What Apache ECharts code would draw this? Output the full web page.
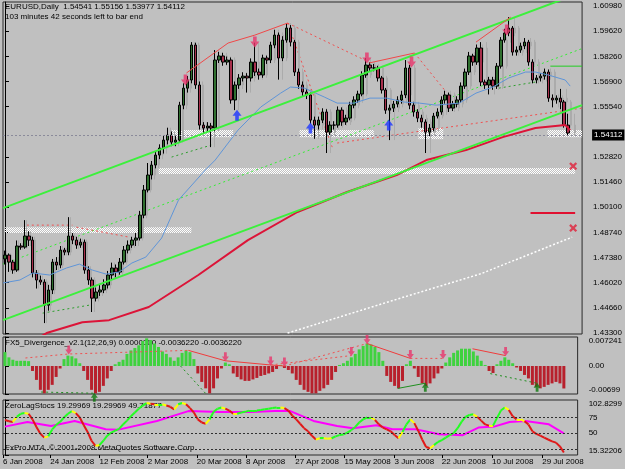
<!DOCTYPE html>
<html>
<head>
<meta charset="utf-8">
<script src="https://cdn.jsdelivr.net/npm/echarts@6/dist/echarts.min.js"></script>
<style>
html, body { margin: 0; padding: 0; background: #c0c0c0; }
#main { width: 625px; height: 469px; }
</style>
</head>
<body>
<div id="main"></div>
<script>
// ---- price bars: [open, close, low, high] ----
const candles = [
  [1.4730,1.4751,1.4700,1.4775],[1.4751,1.4713,1.4660,1.4760],[1.4713,1.4670,1.4650,1.4725],[1.4670,1.4800,1.4660,1.4830],
  [1.4800,1.4794,1.4780,1.4815],[1.4794,1.4854,1.4785,1.4940],[1.4854,1.4832,1.4800,1.4880],[1.4832,1.4654,1.4630,1.4850],
  [1.4654,1.4616,1.4570,1.4670],[1.4616,1.4605,1.4590,1.4640],[1.4605,1.4480,1.4383,1.4620],[1.4480,1.4562,1.4450,1.4590],
  [1.4562,1.4713,1.4540,1.4730],[1.4713,1.4697,1.4670,1.4740],[1.4697,1.4778,1.4680,1.4800],[1.4778,1.4767,1.4750,1.4790],
  [1.4767,1.4854,1.4750,1.4956],[1.4854,1.4832,1.4810,1.4870],[1.4832,1.4805,1.4785,1.4850],[1.4805,1.4821,1.4790,1.4840],
  [1.4821,1.4670,1.4650,1.4835],[1.4670,1.4616,1.4590,1.4690],[1.4616,1.4518,1.4443,1.4630],[1.4518,1.4551,1.4500,1.4575],
  [1.4551,1.4562,1.4530,1.4590],[1.4562,1.4589,1.4545,1.4620],[1.4589,1.4643,1.4570,1.4665],[1.4643,1.4681,1.4620,1.4710],
  [1.4681,1.4659,1.4630,1.4700],[1.4659,1.4713,1.4645,1.4735],[1.4713,1.4778,1.4700,1.4800],[1.4778,1.4805,1.4760,1.4830],
  [1.4805,1.4832,1.4790,1.4850],[1.4832,1.4843,1.4800,1.4870],[1.4843,1.4967,1.4830,1.4990],[1.4967,1.5103,1.4950,1.5130],
  [1.5103,1.5184,1.5090,1.5249],[1.5184,1.5238,1.5160,1.5260],[1.5238,1.5292,1.5220,1.5310],[1.5292,1.5330,1.5270,1.5350],
  [1.5330,1.5373,1.5300,1.5400],[1.5373,1.5400,1.5350,1.5440],[1.5400,1.5362,1.5340,1.5420],[1.5362,1.5373,1.5340,1.5395],
  [1.5373,1.5562,1.5360,1.5580],[1.5562,1.5654,1.5540,1.5680],[1.5654,1.5698,1.5630,1.5720],[1.5698,1.5887,1.5680,1.5903],
  [1.5887,1.5671,1.5650,1.5900],[1.5671,1.5454,1.5430,1.5690],[1.5454,1.5438,1.5410,1.5470],[1.5438,1.5449,1.5420,1.5470],
  [1.5449,1.5438,1.5335,1.5465],[1.5438,1.5806,1.5420,1.5860],[1.5806,1.5828,1.5790,1.5850],[1.5828,1.5795,1.5775,1.5845],
  [1.5795,1.5806,1.5780,1.5825],[1.5806,1.5590,1.5570,1.5820],[1.5590,1.5671,1.5535,1.5690],[1.5671,1.5709,1.5650,1.5730],
  [1.5709,1.5719,1.5690,1.5740],[1.5719,1.5709,1.5630,1.5735],[1.5709,1.5795,1.5690,1.5815],[1.5795,1.5741,1.5720,1.5900],
  [1.5741,1.5725,1.5700,1.5760],[1.5725,1.5817,1.5710,1.5835],[1.5817,1.5806,1.5785,1.5830],[1.5806,1.5887,1.5790,1.5905],
  [1.5887,1.5941,1.5870,1.5970],[1.5941,1.5817,1.5700,1.5955],[1.5817,1.5914,1.5800,1.5935],[1.5914,1.5979,1.5900,1.6006],
  [1.5979,1.5903,1.5880,1.5995],[1.5903,1.5741,1.5720,1.5915],[1.5741,1.5671,1.5650,1.5760],[1.5671,1.5633,1.5610,1.5690],
  [1.5633,1.5617,1.5595,1.5650],[1.5617,1.5481,1.5460,1.5630],[1.5481,1.5454,1.5380,1.5500],[1.5454,1.5481,1.5430,1.5500],
  [1.5481,1.5525,1.5465,1.5545],[1.5525,1.5416,1.5303,1.5540],[1.5416,1.5454,1.5400,1.5475],[1.5454,1.5454,1.5430,1.5475],
  [1.5454,1.5535,1.5440,1.5555],[1.5535,1.5471,1.5450,1.5550],[1.5471,1.5492,1.5455,1.5510],[1.5492,1.5562,1.5480,1.5580],
  [1.5562,1.5590,1.5545,1.5610],[1.5590,1.5622,1.5575,1.5640],[1.5622,1.5725,1.5610,1.5745],[1.5725,1.5779,1.5710,1.5817],
  [1.5779,1.5763,1.5745,1.5795],[1.5763,1.5763,1.5745,1.5785],[1.5763,1.5709,1.5690,1.5775],[1.5709,1.5644,1.5625,1.5720],
  [1.5644,1.5535,1.5515,1.5655],[1.5535,1.5546,1.5373,1.5565],[1.5546,1.5568,1.5525,1.5585],[1.5568,1.5590,1.5550,1.5610],
  [1.5590,1.5617,1.5570,1.5640],[1.5617,1.5763,1.5600,1.5806],[1.5763,1.5562,1.5540,1.5780],[1.5562,1.5525,1.5500,1.5580],
  [1.5525,1.5492,1.5470,1.5540],[1.5492,1.5471,1.5440,1.5510],[1.5471,1.5416,1.5303,1.5485],[1.5416,1.5438,1.5395,1.5460],
  [1.5438,1.5503,1.5420,1.5520],[1.5503,1.5525,1.5490,1.5545],[1.5525,1.5590,1.5510,1.5610],[1.5590,1.5617,1.5570,1.5640],
  [1.5617,1.5546,1.5525,1.5630],[1.5546,1.5568,1.5530,1.5585],[1.5568,1.5590,1.5550,1.5610],[1.5590,1.5665,1.5575,1.5685],
  [1.5665,1.5741,1.5650,1.5760],[1.5741,1.5828,1.5725,1.5850],[1.5828,1.5795,1.5775,1.5840],[1.5795,1.5871,1.5780,1.5890],
  [1.5871,1.5687,1.5665,1.5903],[1.5687,1.5671,1.5650,1.5700],[1.5671,1.5698,1.5620,1.5715],[1.5698,1.5665,1.5645,1.5715],
  [1.5665,1.5773,1.5650,1.5790],[1.5773,1.5914,1.5760,1.5930],[1.5914,1.5952,1.5900,1.5975],[1.5952,1.5979,1.5935,1.6038],
  [1.5979,1.5849,1.5830,1.5990],[1.5849,1.5860,1.5830,1.5880],[1.5860,1.5882,1.5845,1.5900],[1.5882,1.5903,1.5865,1.5925],
  [1.5903,1.5795,1.5775,1.5915],[1.5795,1.5698,1.5680,1.5810],[1.5698,1.5709,1.5680,1.5725],[1.5709,1.5719,1.5690,1.5735],
  [1.5719,1.5741,1.5700,1.5760],[1.5741,1.5600,1.5580,1.5755],[1.5600,1.5590,1.5550,1.5620],[1.5590,1.5600,1.5570,1.5615],
  [1.5600,1.5579,1.5540,1.5650],[1.5579,1.5454,1.5440,1.5590],[1.54541,1.54112,1.53977,1.55156]
];
const barSlots = 146;          // visible bar slots across the chart
const bidPrice = 1.54112;

const priceTicks = [1.43300,1.44660,1.46020,1.47380,1.48740,1.50100,1.51460,1.52820,1.55540,1.56900,1.58260,1.59620,1.60980];

// moving averages: [bar index, price]
const blueMA = [[-0.5,1.4600],[3.75,1.4616],[7,1.4654],[11.25,1.4643],[15.5,1.4681],[18.75,1.4702],[22,1.4670],[25.5,1.4648],
  [28.75,1.4659],[32,1.4708],[35.5,1.4740],[39.5,1.4843],[43.75,1.5049],[50.5,1.5211],[53,1.5265],[58.75,1.5427],[64.5,1.5552],
  [69.5,1.5627],[72,1.5660],[75.5,1.5654],[80.5,1.5606],[83.75,1.5573],[88,1.5573],[92,1.5600],[96.25,1.5600],[100.5,1.5579],
  [104.5,1.5573],[108.75,1.5562],[114.5,1.5573],[118.75,1.5627],[123,1.5660],[127,1.5709],[131.25,1.5741],[133.75,1.5741],
  [137,1.5725],[141.25,1.5698],[142.5,1.5665]];
const redMA = [[9.25,1.4313],[10.5,1.4329],[19.5,1.4388],[26.25,1.4399],[36.25,1.4470],[48.75,1.4643],[61.25,1.4832],
  [73.75,1.4984],[86.25,1.5092],[98.75,1.5184],[106.25,1.5265],[116.25,1.5319],[125.5,1.5389],[133.75,1.5438],[141.25,1.5454],[142.5,1.5427]];
const whiteMA = [[71.25,1.4329],[100,1.4520],[120,1.4650],[143,1.4848]];

// trend channel and drawn lines: [[x0,p0],[x1,p1]]
const chanUpper = [[-0.5,1.5005],[145.5,1.6173]];
const chanLower = [[-0.5,1.4399],[145.5,1.5562]];
const chanMid = [[-0.5,1.4702],[145.5,1.5868]];
const redSolid = [
  [[45.75,1.5736],[56.25,1.5898],[63,1.5941],[71.25,1.6006]],
  [[91.75,1.5790],[103.25,1.5844]],
  [[118.75,1.5903],[127.5,1.6038]]
];
const redDotted = [
  [[5.5,1.4913],[17,1.4913]],
  [[18,1.4902],[31.25,1.4848]],
  [[71.25,1.6006],[91.75,1.5795]],
  [[71.25,1.6006],[82.5,1.5335]],
  [[103.25,1.5844],[111.25,1.5633]],
  [[83.75,1.5357],[145.5,1.5546]]
];
const greenDotted = [
  [[9.5,1.4437],[21.25,1.4480]],
  [[42,1.5281],[52,1.5346]],
  [[124.5,1.5654],[133.75,1.5687]]
];
// hatched support zones: [x0, x1, priceTop, priceBottom]
const zones = [[0,47,1.4902,1.4870],[41.75,57.5,1.5427,1.5389],[74.25,93,1.5427,1.5389],
  [104.25,110.5,1.5438,1.5378],[136.75,145.5,1.5427,1.5389],[38.75,143.75,1.5222,1.5189]];
const sellArrows = [[45.5,1.5698],[63,1.5903],[91.25,1.5817],[102.5,1.5795],[126.5,1.5968]];
const buyArrows = [[58.5,1.5508],[77,1.5438],[96.75,1.5454]];
const crossMarks = [[143.25,1.5232],[143.25,1.4897]];
const redLevel = [[132.5,1.4978],[143.75,1.4978]];
const greenLevel = [[137.5,1.5773],[145.5,1.5773]];

// FX5 divergence histogram
const divHist = [0.00346,0.00216,0.00156,0.0013,0.0013,0.0013,0.00121,-0.00124,-0.00347,-0.00595,-0.00682,-0.00595,-0.00471,-0.00273,
  -0.00062,0.00173,0.00259,0.00242,0.0019,0.00069,-0.00124,-0.00347,-0.00595,-0.00682,-0.00645,-0.00496,-0.0031,-0.00124,0.00043,0.00104,
  0.00156,0.00302,0.00389,0.00449,0.00518,0.00622,0.00691,0.00648,0.00562,0.00475,0.00363,0.00302,0.00216,0.0013,0.00216,0.00328,0.00389,0.00346,
  0.00173,-0.00186,-0.00397,-0.00558,-0.00682,-0.00558,-0.0031,-0.00062,0.00086,0.00043,-0.00186,-0.00273,-0.00335,-0.00372,-0.00372,-0.00335,
  -0.00298,-0.00248,-0.00223,-0.00186,-0.00149,-0.00074,0.00026,-0.0005,-0.00099,-0.00186,-0.00347,-0.00471,-0.00595,-0.00645,-0.00682,
  -0.00682,-0.0062,-0.00558,-0.00471,-0.00347,-0.00149,0.00026,0.00069,0.0013,0.00216,0.00302,0.00415,0.00501,0.00562,0.00536,0.00475,0.00346,
  0.0013,-0.00248,-0.00397,-0.00496,-0.00558,-0.00372,0.00043,0.0013,-0.00062,-0.00273,-0.00434,-0.00496,-0.00434,-0.0031,-0.00186,-0.00062,
  0.00086,0.00216,0.00328,0.00389,0.00432,0.00432,0.00432,0.00363,0.00259,0.0013,0.00026,-0.00124,-0.00174,0.00043,0.0013,0.00216,0.00156,0.00069,
  -0.00037,-0.00124,-0.00223,-0.0031,-0.00471,-0.00521,-0.00558,-0.00521,-0.00471,-0.00434,-0.00397,-0.00434,-0.00561];
const divTicks = [-0.00699, 0, 0.007241];
const divRedSolid = [[[46.6,0.0039],[56,0.0013],[67.5,0.00026],[71,0]],[[92,0.0056],[103,0.0019]],[[118.8,0.0043],[127.2,0.0026]]];
const divRedDotted = [[[5.2,0.002],[16.2,0.003],[46.6,0.0039]],[[71,0],[92,0.0056]],[[67.5,0.00026],[88,0.0026]],[[103,0.0019],[111.3,0.0019]]];
const divGreenSolid = [[[99.8,-0.0056],[106.8,-0.0043]]];
const divGreenDotted = [[[9.2,-0.0065],[22.7,-0.0068]],[[44.6,0],[51.5,-0.0074]],[[123.3,-0.0019],[135.2,-0.0043]]];
const divSellArrows = [[16.2,0.003],[56,0.0013],[67.5,0.00026],[71,0],[88,0.0026],[92,0.0056],[103,0.0019],[111.3,0.0019],[127.2,0.0026]];
const divBuyArrows = [[22.7,-0.0068],[51.5,-0.0074],[106.8,-0.0043],[135.2,-0.0043]];

// ZeroLag stochastic
const stochMain = [71,69,68,76,81,82,81,72,60,49,43,45,56,63,68,75,81,85,82,75,63,52,38,30,31,38,46,51,54,57,64,70,77,83,89,94,98,97,
  96,96,96,94,92,88,96,98,96,90,83,72,67,65,72,84,89,91,89,86,81,81,83,84,86,86,86,87,88,89,90,91,91,90,86,78,72,65,58,53,46,40,42,
  42,41,42,45,47,48,51,55,60,67,72,75,75,71,64,59,56,53,47,42,52,64,72,66,54,40,28,26,31,36,39,43,47,50,58,68,76,79,80,76,70,64,62,
  62,74,86,91,87,77,72,72,69,64,53,49,46,43,40,37,35,29,19.3];
const stochSignal = [[0,60.5],[5.7,67.9],[11.7,61.6],[17.7,69.5],[25.6,56.3],[28.6,55.3],[38.6,69.5],[46.6,85.2],[54.5,83.7],
  [62.5,83.7],[68.5,85.2],[72.5,85.2],[78.4,69.5],[84.4,61.6],[88.4,57.9],[94.4,62.6],[98.4,56.3],[104.3,56.3],[110.3,48.4],
  [116.3,46.8],[120.3,58.9],[124.3,60.5],[128.2,67.9],[132.2,69.5],[138.2,64.2],[142,49.7]];
const stochLevels = [25, 50, 75];
const stochTicks = [15.32206, 25, 50, 75, 102.8299];

const dateLabels = ['6 Jan 2008','24 Jan 2008','12 Feb 2008','2 Mar 2008','20 Mar 2008','8 Apr 2008','27 Apr 2008',
  '15 May 2008','3 Jun 2008','22 Jun 2008','10 Jul 2008','29 Jul 2008'];
const dateIdx = [-0.5,11.5,24,36.25,48.75,61.25,73.75,86.25,99,111,123.75,136.5];

// ---- build ----
const FONT = "'Liberation Sans', Arial, sans-serif";
const BG = '#c0c0c0';
const cats = [];
for (let i = 0; i < barSlots; i++) cats.push(String(i));

// white checker pattern for the zones
const pat = document.createElement('canvas');
pat.width = 2; pat.height = 2;
const pc = pat.getContext('2d');
pc.fillStyle = '#ffffff';
pc.fillRect(0, 0, 1, 1);
pc.fillRect(1, 1, 1, 1);

const downArrow = 'path://M3,0 L7,0 L7,5 L10,5 L5,11 L0,5 L3,5 Z';
const upArrow = 'path://M5,0 L10,6 L7,6 L7,11 L3,11 L3,6 L0,6 Z';
const crossPath = 'path://M0,2 L2,0 L5,3 L8,0 L10,2 L7,5 L10,8 L8,10 L5,7 L2,10 L0,8 L3,5 Z';

function lineSeries(data, color, width, type, xi, yi, z) {
  return {
    type: 'line', xAxisIndex: xi, yAxisIndex: yi, data: data, symbol: 'none', silent: true,
    lineStyle: { color: color, width: width, type: type }, z: z || 3, clip: true, animation: false
  };
}

const series = [];

// hatched zones
series.push({
  type: 'line', xAxisIndex: 1, yAxisIndex: 0, data: [], z: 1,
  markArea: {
    silent: true,
    itemStyle: { color: { image: pat, repeat: 'repeat' } },
    data: zones.map(z => [{ coord: [z[0], z[2]] }, { coord: [z[1], z[3]] }])
  }
});

series.push(lineSeries(whiteMA, '#ffffff', 1.5, [2, 2], 1, 0, 2));
series.push(lineSeries(chanMid, '#33ee33', 1, [2, 3], 1, 0, 2));
greenDotted.forEach(d => series.push(lineSeries(d, '#2e9e2e', 1, [2, 3], 1, 0, 2)));
redDotted.forEach(d => series.push(lineSeries(d, '#f05050', 1, [2, 3], 1, 0, 2)));

// grey shadow copy of the bars, drawn slightly to the right
series.push({
  type: 'candlestick', xAxisIndex: 5, yAxisIndex: 3, data: candles, barWidth: 2, z: 3, silent: true,
  itemStyle: { color: '#ababab', color0: '#ababab', borderColor: '#ababab', borderColor0: '#ababab', borderWidth: 1 }
});

series.push({
  type: 'candlestick', xAxisIndex: 0, yAxisIndex: 0, data: candles, barWidth: 3, z: 4,
  itemStyle: { color: '#2f6f2f', color0: '#a8304c', borderColor: '#000000', borderColor0: '#000000', borderWidth: 1 },
  markLine: {
    silent: true, symbol: 'none', animation: false,
    lineStyle: { color: '#8a8a9a', type: [2, 2], width: 1 },
    label: {
      position: 'end', formatter: bidPrice.toFixed(5), color: '#ffffff', backgroundColor: '#000000',
      fontFamily: FONT, fontSize: 8, padding: [2, 2, 1, 2], distance: 10
    },
    data: [{ yAxis: bidPrice }]
  }
});

series.push(lineSeries(blueMA, '#5f95d8', 1, 'solid', 1, 0, 5));
series.push(lineSeries(redMA, '#dc1438', 2, 'solid', 1, 0, 5));
series.push(lineSeries(chanUpper, '#3cf03c', 2, 'solid', 1, 0, 5));
series.push(lineSeries(chanLower, '#3cf03c', 2, 'solid', 1, 0, 5));
series.push(lineSeries(greenLevel, '#22cc22', 1, 'solid', 1, 0, 5));
series.push(lineSeries(redLevel, '#e01030', 2, 'solid', 1, 0, 5));
redSolid.forEach(d => series.push(lineSeries(d, '#f04848', 1, 'solid', 1, 0, 5)));

series.push({ type: 'scatter', xAxisIndex: 1, yAxisIndex: 0, data: sellArrows, symbol: downArrow, symbolSize: [9, 11],
  itemStyle: { color: '#e8346c' }, z: 6, silent: true });
series.push({ type: 'scatter', xAxisIndex: 1, yAxisIndex: 0, data: buyArrows, symbol: upArrow, symbolSize: [9, 11],
  itemStyle: { color: '#1c34ff' }, z: 6, silent: true });
series.push({ type: 'scatter', xAxisIndex: 1, yAxisIndex: 0, data: crossMarks, symbol: crossPath, symbolSize: 8,
  itemStyle: { color: '#e0203a' }, z: 6, silent: true });

// divergence panel
series.push({
  type: 'bar', xAxisIndex: 2, yAxisIndex: 1, data: divHist, barWidth: 3, z: 2, silent: true,
  itemStyle: { color: p => (p.value >= 0 ? '#3fd23f' : '#b8202c') }
});
divRedSolid.forEach(d => series.push(lineSeries(d, '#f03c3c', 1, 'solid', 3, 1, 4)));
divRedDotted.forEach(d => series.push(lineSeries(d, '#f05050', 1, [2, 3], 3, 1, 4)));
divGreenSolid.forEach(d => series.push(lineSeries(d, '#1f8f1f', 1, 'solid', 3, 1, 4)));
divGreenDotted.forEach(d => series.push(lineSeries(d, '#1f8f1f', 1, [2, 3], 3, 1, 4)));
series.push({ type: 'scatter', xAxisIndex: 3, yAxisIndex: 1, data: divSellArrows, symbol: downArrow, symbolSize: [7, 9],
  symbolOffset: [0, -4], itemStyle: { color: '#e8346c' }, z: 6, silent: true });
series.push({ type: 'scatter', xAxisIndex: 3, yAxisIndex: 1, data: divBuyArrows, symbol: upArrow, symbolSize: [7, 9],
  symbolOffset: [0, 4], itemStyle: { color: '#0f7a0f' }, z: 6, silent: true });

// stochastic panel
const stochSeg = [];
for (let i = 0; i < stochMain.length - 1; i++) {
  const up = stochMain[i + 1] >= stochMain[i];
  const prevUp = i > 0 ? stochMain[i] >= stochMain[i - 1] : up;
  const col = up !== prevUp ? '#ffff00' : (up ? '#22ff22' : '#e01818');
  stochSeg.push({ coords: [[i, stochMain[i]], [i + 1, stochMain[i + 1]]], lineStyle: { color: col } });
}
series.push({
  type: 'line', xAxisIndex: 4, yAxisIndex: 2, data: stochSignal, symbol: 'none', z: 3, silent: true,
  lineStyle: { color: '#ff00ff', width: 2 },
  markLine: {
    silent: true, symbol: 'none', label: { show: false },
    lineStyle: { color: '#303030', type: [2, 2], width: 1 },
    data: stochLevels.map(v => ({ yAxis: v }))
  }
});
series.push({
  type: 'lines', coordinateSystem: 'cartesian2d', xAxisIndex: 4, yAxisIndex: 2, data: stochSeg, z: 4, silent: true,
  lineStyle: { width: 2, opacity: 1 }
});

const axisText = { color: '#000000', fontFamily: FONT, fontSize: 8 };

const option = {
  backgroundColor: BG,
  animation: false,
  grid: [
    { left: 3, top: 2, width: 584, height: 332, show: true, backgroundColor: BG, borderColor: '#2a2a2a', borderWidth: 1 },
    { left: 3, top: 337, width: 584, height: 57, show: true, backgroundColor: BG, borderColor: '#2a2a2a', borderWidth: 1 },
    { left: 3, top: 400, width: 584, height: 55, show: true, backgroundColor: BG, borderColor: '#2a2a2a', borderWidth: 1 },
    { left: 5, top: 2, width: 584, height: 332, show: false }
  ],
  xAxis: [
    { type: 'category', gridIndex: 0, data: cats, show: false, boundaryGap: true },
    { type: 'value', gridIndex: 0, min: -0.5, max: barSlots - 0.5, show: false },
    { type: 'category', gridIndex: 1, data: cats, show: false, boundaryGap: true },
    { type: 'value', gridIndex: 1, min: -0.5, max: barSlots - 0.5, show: false },
    {
      type: 'value', gridIndex: 2, min: -0.5, max: barSlots - 0.5, position: 'bottom',
      axisLine: { show: false }, splitLine: { show: false },
      axisTick: { show: true, length: 3, customValues: dateIdx, lineStyle: { color: '#000' } },
      axisLabel: Object.assign({
        customValues: dateIdx, align: 'left', margin: 3, hideOverlap: false,
        formatter: v => dateLabels[dateIdx.indexOf(v)] || ''
      }, axisText)
    },
    { type: 'category', gridIndex: 3, data: cats, show: false, boundaryGap: true }
  ],
  yAxis: [
    {
      type: 'value', gridIndex: 0, position: 'right', min: 1.4324, max: 1.6120, scale: true,
      axisLine: { show: true, lineStyle: { color: '#000' } }, splitLine: { show: false },
      axisTick: { show: true, length: 4, customValues: priceTicks, lineStyle: { color: '#000' } },
      axisLabel: Object.assign({ customValues: priceTicks, margin: 11, formatter: v => v.toFixed(5) }, axisText)
    },
    {
      type: 'value', gridIndex: 1, position: 'right', min: -0.00699, max: 0.007241,
      axisLine: { show: true, lineStyle: { color: '#000' } }, splitLine: { show: false },
      axisTick: { show: true, length: 4, customValues: divTicks, lineStyle: { color: '#000' } },
      axisLabel: Object.assign({ customValues: divTicks, margin: 11, showMinLabel: true, showMaxLabel: true,
        verticalAlignMaxLabel: 'top', verticalAlignMinLabel: 'bottom',
        formatter: v => (v === 0 ? '0.00' : String(v)) }, axisText)
    },
    {
      type: 'value', gridIndex: 2, position: 'right', min: 15.32206, max: 102.8299,
      axisLine: { show: true, lineStyle: { color: '#000' } }, splitLine: { show: false },
      axisTick: { show: true, length: 4, customValues: stochTicks, lineStyle: { color: '#000' } },
      axisLabel: Object.assign({ customValues: stochTicks, margin: 11, showMinLabel: true, showMaxLabel: true,
        hideOverlap: false, verticalAlignMaxLabel: 'top', verticalAlignMinLabel: 'bottom',
        formatter: v => String(v) }, axisText)
    },
    { type: 'value', gridIndex: 3, min: 1.4324, max: 1.6120, scale: true, show: false }
  ],
  graphic: [
    { type: 'text', left: 5, top: 3, style: { text: 'EURUSD,Daily  1.54541 1.55156 1.53977 1.54112', fill: '#000', font: '8px ' + FONT } },
    { type: 'text', left: 5, top: 13, style: { text: '103 minutes 42 seconds left to bar end', fill: '#000', font: '8px ' + FONT } },
    { type: 'text', left: 5, top: 339, style: { text: 'FX5_Divergence_v2.1(12,26,9) 0.0000000 -0.0036220 -0.0036220', fill: '#000', font: '8px ' + FONT } },
    { type: 'text', left: 5, top: 402, style: { text: 'ZeroLagStocs 19.29969 19.29969 49.71877', fill: '#000', font: '8px ' + FONT } },
    { type: 'text', left: 5, top: 444, style: { text: 'FxPro MT4, © 2001-2008 MetaQuotes Software Corp.', fill: '#000', font: '8px ' + FONT } }
  ],
  series: series
};

const chart = echarts.init(document.getElementById('main'), null, { renderer: 'canvas' });
chart.setOption(option);
</script>
</body>
</html>
